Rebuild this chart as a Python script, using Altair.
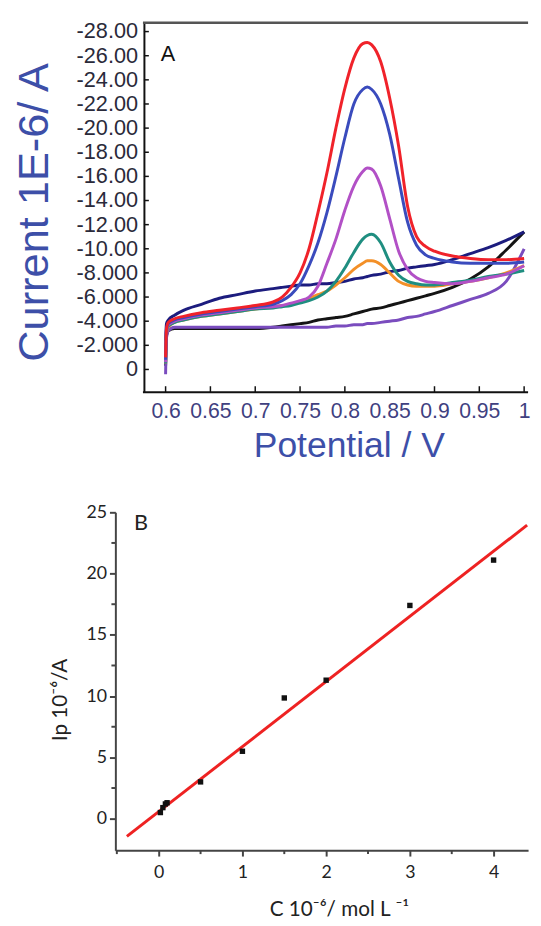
import altair as alt
import pandas as pd

# ---------------- Panel A data ----------------
potential = [0.600, 0.601, 0.603, 0.610, 0.620, 0.640, 0.660, 0.680, 0.700, 0.720,
             0.730, 0.740, 0.750, 0.760, 0.770, 0.780, 0.790, 0.800, 0.810, 0.820,
             0.825, 0.830, 0.840, 0.850, 0.860, 0.870, 0.880, 0.890, 0.900, 0.920,
             0.940, 0.960, 0.980, 1.000]

cur_black = [-0.3, -2.8, -3.2, -3.4, -3.4, -3.4, -3.4, -3.4, -3.4, -3.5,
             -3.6, -3.7, -3.8, -3.9, -4.1, -4.2, -4.3, -4.4, -4.6, -4.8,
             -4.9, -5.0, -5.1, -5.3, -5.5, -5.7, -5.9, -6.1, -6.3, -6.8,
             -7.5, -8.5, -9.9, -11.4]
cur_violet = [0.4, -2.6, -3.2, -3.5, -3.5, -3.5, -3.5, -3.5, -3.5, -3.5,
              -3.5, -3.5, -3.5, -3.5, -3.5, -3.5, -3.6, -3.6, -3.7, -3.7,
              -3.8, -3.8, -3.9, -4.0, -4.1, -4.3, -4.4, -4.6, -4.8, -5.3,
              -5.8, -6.3, -7.3, -10.0]
cur_navy = [-2.4, -3.8, -4.1, -4.5, -4.9, -5.4, -5.9, -6.2, -6.5, -6.7,
            -6.8, -6.9, -7.0, -7.0, -7.1, -7.1, -7.2, -7.3, -7.5, -7.6,
            -7.7, -7.8, -7.9, -8.1, -8.2, -8.4, -8.5, -8.6, -8.7, -9.1,
            -9.6, -10.1, -10.7, -11.4]
cur_orange = [-0.5, -3.0, -3.5, -3.9, -4.1, -4.4, -4.6, -4.8, -5.0, -5.2,
              -5.3, -5.4, -5.6, -5.9, -6.2, -6.5, -7.0, -7.6, -8.3, -8.8,
              -9.0, -9.0, -8.7, -8.0, -7.3, -7.0, -6.9, -6.9, -6.9, -7.1,
              -7.3, -7.6, -8.0, -8.6]
cur_teal = [-0.5, -3.1, -3.6, -3.9, -4.1, -4.4, -4.6, -4.8, -5.0, -5.1,
            -5.2, -5.3, -5.5, -5.7, -6.0, -6.5, -7.3, -8.4, -9.7, -10.8,
            -11.1, -11.2, -10.5, -8.9, -7.8, -7.3, -7.1, -7.0, -7.0, -7.2,
            -7.4, -7.7, -7.9, -8.2]
cur_orchid = [-0.6, -3.2, -3.7, -4.0, -4.2, -4.5, -4.7, -4.9, -5.1, -5.2,
              -5.3, -5.5, -5.7, -6.0, -6.9, -8.8, -10.8, -13.2, -15.2, -16.4,
              -16.7, -16.6, -15.2, -12.5, -9.8, -8.3, -7.6, -7.3, -7.2, -7.1,
              -7.3, -7.6, -7.9, -8.6]
cur_blue = [-0.8, -3.3, -3.8, -4.1, -4.3, -4.6, -4.8, -5.0, -5.2, -5.4,
            -5.7, -6.2, -7.1, -8.6, -10.5, -13.0, -16.0, -19.2, -22.0, -23.2,
            -23.4, -23.2, -22.0, -19.5, -15.8, -12.2, -10.3, -9.5, -9.2, -8.9,
            -8.8, -8.8, -8.8, -8.9]
cur_red = [-1.0, -3.4, -3.9, -4.2, -4.4, -4.7, -4.9, -5.1, -5.3, -5.6,
           -6.0, -6.8, -8.0, -10.0, -13.0, -16.3, -20.0, -23.3, -25.8, -27.0,
           -27.1, -26.9, -25.5, -22.5, -18.5, -13.5, -11.0, -10.2, -9.8, -9.4,
           -9.2, -9.1, -9.1, -9.2]

series_names = ["black", "violet", "navy", "orange", "teal", "orchid", "blue", "red"]
series_vals = [cur_black, cur_violet, cur_navy, cur_orange, cur_teal, cur_orchid, cur_blue, cur_red]
series_colors = ["#141414", "#7a4cbe", "#1c1c7e", "#f39028", "#1f8e80", "#b250c6", "#3a4bbd", "#f0222a"]

x_ticks_a = [0.6, 0.65, 0.7, 0.75, 0.8, 0.85, 0.9, 0.95, 1.0]
y_ticks_a = [-28, -26, -24, -22, -20, -18, -16, -14, -12, -10, -8, -6, -4, -2, 0]
y_tick_labels_a = ["-28.00", "-26.00", "-24.00", "-22.00", "-20.00", "-18.00", "-16.00",
                   "-14.00", "-12.00", "-10.00", "-8.000", "-6.000", "-4.000", "-2.000", "0"]

# ---------------- Panel B data ----------------
conc = [0.02, 0.05, 0.08, 0.1, 0.5, 1.0, 1.5, 2.0, 3.0, 4.0]
ip = [0.5, 0.9, 1.2, 1.3, 3.0, 5.5, 9.85, 11.3, 17.4, 21.1]
fit_c = [-0.38, 4.40]
fit_ip = [-1.45, 23.95]

x_ticks_b = [0, 1, 2, 3, 4]
x_minor_b = [-0.5, 0.5, 1.5, 2.5, 3.5]
y_ticks_b = [0, 5, 10, 15, 20, 25]
y_minor_b = [2.5, 7.5, 12.5, 17.5, 22.5]

# ---------------- Panel A ----------------
rows = []
for k, (name, vals) in enumerate(zip(series_names, series_vals)):
    for e, i in zip(potential, vals):
        rows.append({"series": name, "k": k, "E": e, "I": i})
df_a = pd.DataFrame(rows)

WA, HA = 419, 375
AX_OFF = 29
FA = "Liberation Sans"
BLUE_T = "#3d4fa8"

xs_a = alt.Scale(domain=[0.54396, 1.0044], nice=False, zero=False)
ys_a = alt.Scale(domain=[-28.73, 1.88], reverse=True, nice=False, zero=False)

x_axis_a = alt.Axis(values=x_ticks_a, format="~g", domain=False, ticks=False, tickSize=0,
                    grid=False, labelFont=FA, labelFontSize=21.5, labelColor="#404080",
                    labelPadding=9, labelFlush=False, labelOverlap=False,
                    title="Potential / V", titleFont=FA, titleFontSize=36,
                    titleFontWeight="normal", titleColor=BLUE_T, titlePadding=7,
                    titleX=237)
y_axis_a = alt.Axis(values=y_ticks_a, offset=-AX_OFF, domain=True, domainColor="#111111",
                    domainWidth=2, ticks=False, tickSize=0, grid=False,
                    labels=False, labelPadding=0,
                    title="Current 1E-6/ A", titleFont=FA, titleFontSize=44,
                    titleFontWeight="normal", titleColor=BLUE_T, titlePadding=89,
                    titleY=192)

lines_a = alt.Chart(df_a).mark_line(strokeWidth=3, interpolate="monotone").encode(
    x=alt.X("E:Q", scale=xs_a, axis=x_axis_a),
    y=alt.Y("I:Q", scale=ys_a, axis=y_axis_a),
    color=alt.Color("series:N", scale=alt.Scale(domain=series_names, range=series_colors), legend=None),
    order=alt.Order("E:Q"),
)

ytick_df = pd.DataFrame({"I": y_ticks_a, "lab": y_tick_labels_a})
xtick_df = pd.DataFrame({"E": x_ticks_a})
one = pd.DataFrame({"a": [0]})

yticks_in = alt.Chart(ytick_df).mark_rule(color="#111111", strokeWidth=1.5).encode(
    y=alt.Y("I:Q", scale=ys_a, axis=y_axis_a), x=alt.value(AX_OFF), x2=alt.value(AX_OFF + 5))
ylabels_a = alt.Chart(ytick_df).mark_text(align="right", baseline="middle", font=FA,
                                          fontSize=22, color="#2a2a3a").encode(
    y=alt.Y("I:Q", scale=ys_a, axis=y_axis_a), x=alt.value(AX_OFF - 6), text="lab:N")
xticks_in = alt.Chart(xtick_df).mark_rule(color="#111111", strokeWidth=1.5).encode(
    x=alt.X("E:Q", scale=xs_a, axis=x_axis_a), y=alt.value(HA), y2=alt.value(HA - 6))
bottom_line = alt.Chart(one).mark_rule(color="#111111", strokeWidth=2).encode(
    x=alt.value(AX_OFF - 1), x2=alt.value(WA), y=alt.value(HA))
top_line = alt.Chart(one).mark_rule(color="#555555", strokeWidth=2.5).encode(
    x=alt.value(AX_OFF - 1), x2=alt.value(WA), y=alt.value(0))
label_a = alt.Chart(one).mark_text(text="A", align="left", baseline="alphabetic",
                                   font=FA, fontSize=22, color="#111111").encode(
    x=alt.datum(0.5945), y=alt.datum(-25.6))

panel_a = alt.layer(top_line, lines_a, yticks_in, ylabels_a, xticks_in, bottom_line,
                    label_a).properties(width=WA, height=HA)

# ---------------- Panel B ----------------
WB, HB = 419, 343
FB = "Lato"
df_pts = pd.DataFrame({"C": conc, "Ip": ip})
df_fit = pd.DataFrame({"C": fit_c, "Ip": fit_ip})

xs_b = alt.Scale(domain=[-0.5176, 4.4118], nice=False, zero=False)
ys_b = alt.Scale(domain=[-2.57, 25], nice=False, zero=False)

x_axis_b = alt.Axis(values=x_ticks_b, format="d", domainColor="#444444", domainWidth=2,
                    tickColor="#444444", tickWidth=2, tickSize=6, grid=False,
                    labelFont=FB, labelFontSize=18, labelColor="#222222", labelPadding=8,
                    title="C 10⁻⁶/ mol L ⁻¹", titleFont=FB, titleFontSize=21,
                    titleFontWeight="normal", titleColor="#222222", titlePadding=17,
                    titleX=227)
y_axis_b = alt.Axis(values=y_ticks_b, format="d", domainColor="#444444", domainWidth=2,
                    tickColor="#444444", tickWidth=2, tickSize=6, grid=False,
                    labelFont=FB, labelFontSize=18, labelColor="#222222", labelPadding=3,
                    title="Ip 10⁻⁶/A", titleFont=FB, titleFontSize=21,
                    titleFontWeight="normal", titleColor="#222222", titlePadding=16,
                    titleY=190)

fit_line = alt.Chart(df_fit).mark_line(color="#ee2222", strokeWidth=3).encode(
    x=alt.X("C:Q", scale=xs_b, axis=x_axis_b),
    y=alt.Y("Ip:Q", scale=ys_b, axis=y_axis_b),
)
points = alt.Chart(df_pts).mark_point(shape="square", filled=True, size=30, color="#111111",
                                      opacity=1).encode(
    x=alt.X("C:Q", scale=xs_b, axis=x_axis_b), y=alt.Y("Ip:Q", scale=ys_b, axis=y_axis_b))

yminor = alt.Chart(pd.DataFrame({"Ip": y_minor_b})).mark_rule(color="#444444", strokeWidth=2).encode(
    y=alt.Y("Ip:Q", scale=ys_b, axis=y_axis_b), x=alt.value(-4), x2=alt.value(0))
xminor = alt.Chart(pd.DataFrame({"C": x_minor_b})).mark_rule(color="#444444", strokeWidth=2).encode(
    x=alt.X("C:Q", scale=xs_b, axis=x_axis_b), y=alt.value(HB), y2=alt.value(HB + 4))
label_b = alt.Chart(one).mark_text(text="B", align="left", baseline="alphabetic",
                                   font=FB, fontSize=22, color="#222222").encode(
    x=alt.datum(-0.294), y=alt.datum(23.55))

panel_b = alt.layer(fit_line, points, yminor, xminor, label_b).properties(width=WB, height=HB)

chart = alt.vconcat(panel_a, panel_b, spacing=40).properties(
    padding={"left": 5, "top": 5, "right": 0, "bottom": 0}
).configure_view(stroke=None)

chart.save("out.html", embed_options={"renderer": "svg", "actions": False})
